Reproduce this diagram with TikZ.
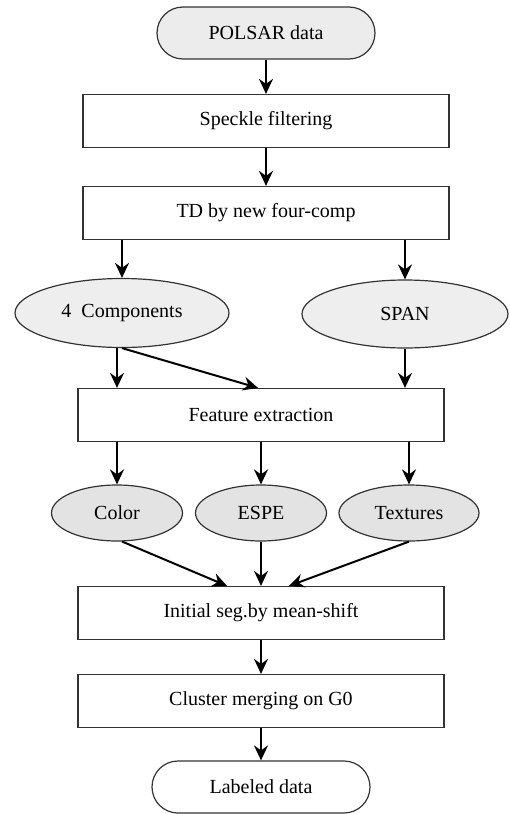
\documentclass[tikz,border=0pt]{standalone}
\usepackage{fontspec}
\setmainfont{Liberation Serif}
\usetikzlibrary{arrows.meta,calc,shapes.geometric}
\begin{document}
\begin{tikzpicture}[x=1pt,y=-1pt]
			\tikzset{boite/.style={rectangle, draw=black!80, line width=1.2pt, fill=white, text centered, minimum width=366pt, minimum height=53pt, inner sep=0pt},
			ovale/.style={ellipse, draw=black!80, line width=1.2pt, fill=gray!13, text centered, inner sep=0pt},
			terminal/.style={rectangle, rounded corners=26pt, draw=black!80, line width=1.2pt, text centered, minimum width=218pt, minimum height=52pt, inner sep=0pt},
			fleche/.style={-{Stealth[length=15pt,width=14pt,inset=5pt]}, line width=2pt}};
			\useasboundingbox (0,0) rectangle (509,814);
			\fontsize{20}{24}\selectfont
			% haut
			\node[terminal, fill=gray!15] (pol) at (266,33) {POLSAR data};
			\node[boite] (spk) at (266,121) {Speckle filtering};
			\node[boite] (td) at (266,213) {TD by new four-comp};
			\node[ovale, minimum width=214pt, minimum height=69pt] (comp) at (122,313) {4\ \ Components};
			\node[ovale, minimum width=206pt, minimum height=68pt] (span) at (405,314) {SPAN};
			\node[boite] (feat) at (261,415) {Feature extraction};
			% caracteristiques
			\foreach \x/\nom/\txt/\w in {117/col/Color/131, 261/espe/ESPE/131, 409/tex/Textures/140} {
				\node[ovale, fill=gray!22, minimum width=\w pt, minimum height=56pt] (\nom) at (\x,513) {\txt};
				\draw[fleche] (\nom.north |- feat.south) -- (\nom.north);
			}
			% bas
			\node[boite] (init) at (261,613) {Initial seg.by mean-shift};
			\node[boite] (clu) at (261,701) {Cluster merging on G0};
			\node[terminal, fill=white] (lab) at (261,787) {Labeled data};

			\draw[fleche] (pol) -- (spk);
			\draw[fleche] (spk) -- (td);
			\draw[fleche] (comp.north |- td.south) -- (comp.north);
			\draw[fleche] (span.north |- td.south) -- (span.north);
			\draw[fleche] (col.north |- comp.south) -- (col.north |- feat.north);
			\draw[fleche] (comp.south) -- ($(feat.north)+(-3,0)$);
			\draw[fleche] (span.south) -- (span.south |- feat.north);
			\draw[fleche] (col.-80) -- ($(init.north)+(-34,0)$);
			\draw[fleche] (espe.south) -- (init.north);
			\draw[fleche] (tex.south) -- ($(init.north)+(28,0)$);
			\draw[fleche] (init) -- (clu);
			\draw[fleche] (clu) -- (lab);
		\end{tikzpicture}
\end{document}
